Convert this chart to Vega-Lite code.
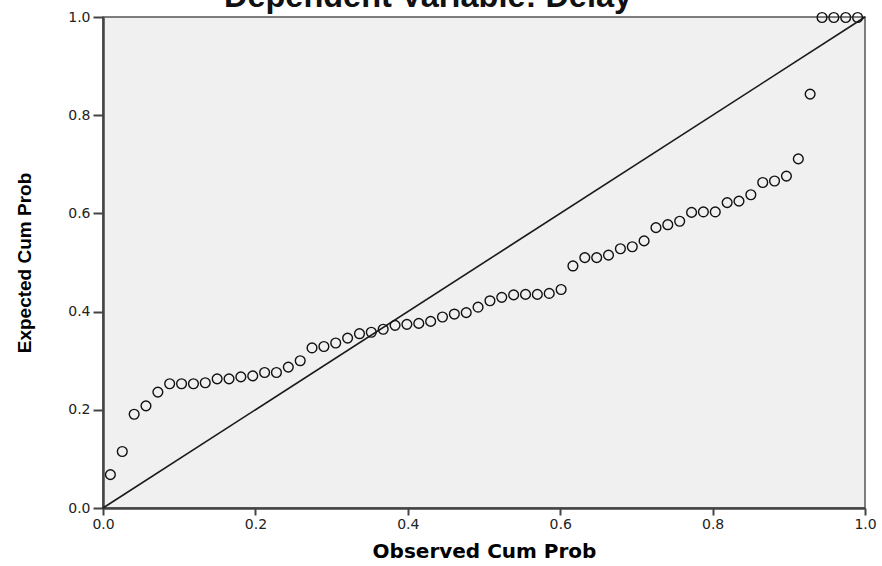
{
  "$schema": "https://vega.github.io/schema/vega-lite/v6.json",
  "autosize": {"type": "none"},
  "padding": {"left": 103, "top": 17, "right": 17, "bottom": 58},
  "width": 762,
  "height": 491,
  "background": "white",
  "title": {
    "text": "Dependent Variable: Delay",
    "font": "Liberation Sans",
    "fontWeight": "bold",
    "fontSize": 32.5,
    "color": "#111111",
    "anchor": "middle",
    "frame": "group",
    "dx": -56,
    "offset": -4
  },
  "config": {
    "view": {"fill": "#f0f0f0", "stroke": "#555555", "strokeWidth": 1.5},
    "axis": {
      "grid": false,
      "domainColor": "#444444",
      "domainWidth": 2.5,
      "tickColor": "#444444",
      "tickWidth": 2,
      "labelFont": "DejaVu Sans",
      "labelFontSize": 14,
      "labelColor": "#222222",
      "titleColor": "#000000"
    }
  },
  "datasets": {
    "pp": [
      {"observed": 0.0097, "expected": 0.068},
      {"observed": 0.0253, "expected": 0.115},
      {"observed": 0.0409, "expected": 0.191},
      {"observed": 0.0564, "expected": 0.208},
      {"observed": 0.0720, "expected": 0.236},
      {"observed": 0.0875, "expected": 0.253},
      {"observed": 0.1031, "expected": 0.253},
      {"observed": 0.1187, "expected": 0.253},
      {"observed": 0.1342, "expected": 0.255},
      {"observed": 0.1498, "expected": 0.263},
      {"observed": 0.1654, "expected": 0.263},
      {"observed": 0.1809, "expected": 0.267},
      {"observed": 0.1965, "expected": 0.269},
      {"observed": 0.2121, "expected": 0.276},
      {"observed": 0.2276, "expected": 0.276},
      {"observed": 0.2432, "expected": 0.287},
      {"observed": 0.2588, "expected": 0.300},
      {"observed": 0.2743, "expected": 0.326},
      {"observed": 0.2899, "expected": 0.329},
      {"observed": 0.3054, "expected": 0.336},
      {"observed": 0.3210, "expected": 0.346},
      {"observed": 0.3366, "expected": 0.355},
      {"observed": 0.3521, "expected": 0.358},
      {"observed": 0.3677, "expected": 0.364},
      {"observed": 0.3833, "expected": 0.372},
      {"observed": 0.3988, "expected": 0.374},
      {"observed": 0.4144, "expected": 0.376},
      {"observed": 0.4300, "expected": 0.380},
      {"observed": 0.4455, "expected": 0.389},
      {"observed": 0.4611, "expected": 0.395},
      {"observed": 0.4767, "expected": 0.398},
      {"observed": 0.4922, "expected": 0.409},
      {"observed": 0.5078, "expected": 0.422},
      {"observed": 0.5233, "expected": 0.429},
      {"observed": 0.5389, "expected": 0.434},
      {"observed": 0.5545, "expected": 0.435},
      {"observed": 0.5700, "expected": 0.435},
      {"observed": 0.5856, "expected": 0.437},
      {"observed": 0.6012, "expected": 0.445},
      {"observed": 0.6167, "expected": 0.493},
      {"observed": 0.6323, "expected": 0.510},
      {"observed": 0.6479, "expected": 0.510},
      {"observed": 0.6634, "expected": 0.515},
      {"observed": 0.6790, "expected": 0.528},
      {"observed": 0.6946, "expected": 0.532},
      {"observed": 0.7101, "expected": 0.544},
      {"observed": 0.7257, "expected": 0.571},
      {"observed": 0.7412, "expected": 0.577},
      {"observed": 0.7568, "expected": 0.584},
      {"observed": 0.7724, "expected": 0.602},
      {"observed": 0.7879, "expected": 0.603},
      {"observed": 0.8035, "expected": 0.603},
      {"observed": 0.8191, "expected": 0.622},
      {"observed": 0.8346, "expected": 0.625},
      {"observed": 0.8502, "expected": 0.638},
      {"observed": 0.8658, "expected": 0.663},
      {"observed": 0.8813, "expected": 0.666},
      {"observed": 0.8969, "expected": 0.676},
      {"observed": 0.9125, "expected": 0.711},
      {"observed": 0.9280, "expected": 0.843},
      {"observed": 0.9436, "expected": 0.999},
      {"observed": 0.9591, "expected": 0.999},
      {"observed": 0.9747, "expected": 0.999},
      {"observed": 0.9903, "expected": 0.999}
    ],
    "diag": [
      {"observed": 0, "expected": 0},
      {"observed": 1, "expected": 1}
    ]
  },
  "layer": [
    {
      "data": {"name": "diag"},
      "mark": {"type": "line", "color": "#1a1a1a", "strokeWidth": 1.6},
      "encoding": {
        "x": {"field": "observed", "type": "quantitative"},
        "y": {"field": "expected", "type": "quantitative"}
      }
    },
    {
      "data": {"name": "pp"},
      "mark": {"type": "point", "shape": "circle", "filled": false, "stroke": "#111111", "strokeWidth": 1.4, "size": 95, "opacity": 1},
      "encoding": {
        "x": {
          "field": "observed",
          "type": "quantitative",
          "scale": {"domain": [0, 1], "nice": false, "zero": false},
          "axis": {
            "title": "Observed Cum Prob",
            "titleFont": "DejaVu Sans",
            "titleFontWeight": "bold",
            "titleFontSize": 20,
            "titlePadding": 10,
            "values": [0, 0.2, 0.4, 0.6, 0.8, 1.0],
            "format": ".1f",
            "tickSize": 7,
            "labelPadding": 2,
            "labelFlush": false
          }
        },
        "y": {
          "field": "expected",
          "type": "quantitative",
          "scale": {"domain": [0, 1], "nice": false, "zero": false},
          "axis": {
            "title": "Expected Cum Prob",
            "titleFont": "Liberation Sans",
            "titleFontWeight": "bold",
            "titleFontSize": 19,
            "titlePadding": 33,
            "values": [0, 0.2, 0.4, 0.6, 0.8, 1.0],
            "format": ".1f",
            "tickSize": 10,
            "labelPadding": 3,
            "labelFlush": false
          }
        }
      }
    }
  ]
}
